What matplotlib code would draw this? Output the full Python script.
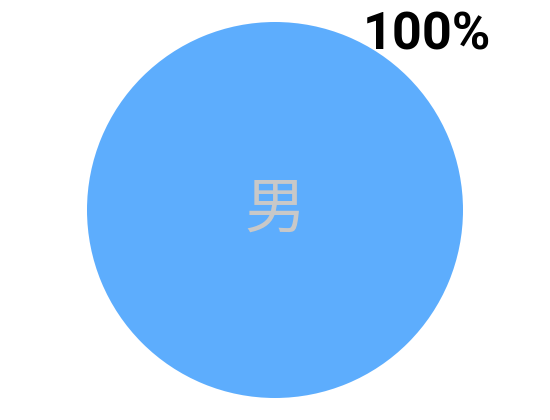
import matplotlib
matplotlib.use("Agg")
import matplotlib.pyplot as plt
import numpy as np

categories = ["男"]
values = [100]
pct_labels = ["100%"]

fig = plt.figure(figsize=(5.5, 4.2), dpi=100)
ax = fig.add_axes([0, 0, 1, 1])
R = 188.0
wedges, texts = ax.pie(values, colors=["#5dadfd"], radius=1.0, startangle=-131,
                       labels=pct_labels, labeldistance=1.232,
                       textprops=dict(fontsize=37.5, fontweight="bold", color="#000000",
                                      family=["Roboto", "DejaVu Sans"]),
                       wedgeprops=dict(linewidth=0))
for t in texts:
    t.set_horizontalalignment("center")
    t.set_verticalalignment("center")
ax.text(0, 0, categories[0], ha="center", va="center", fontsize=44,
        fontweight="medium", color="#c8c8c8",
        family=["Noto Sans CJK SC", "DejaVu Sans"])
ax.set_xlim(-275 / R, 275 / R)
ax.set_ylim(-210 / R, 210 / R)
ax.set_aspect("equal")
ax.axis("off")
fig.savefig("out.png", dpi=100)
